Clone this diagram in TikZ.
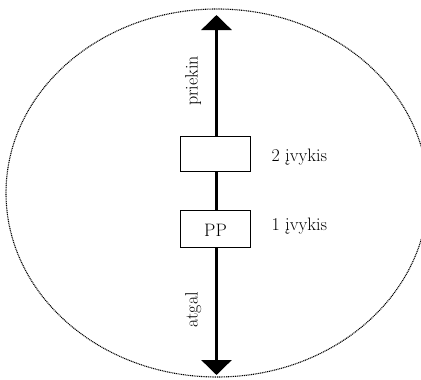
\documentclass[tikz,border=0pt]{standalone}
\usepackage{fontspec}
\usetikzlibrary{arrows.meta}
\begin{document}
\begin{tikzpicture}[x=1pt,y=-1pt,
  lbl/.style={font=\fontsize{18}{21}\selectfont, inner sep=0pt},
  eventbox/.style={draw, line width=1.6pt, minimum width=70pt, minimum height=35pt, inner sep=0pt},
  axis/.style={line width=3pt, -{Triangle[width=30pt,length=15pt]}},
  frame/.style={line width=1.1pt, dash pattern=on 1pt off 0.8pt}]
\useasboundingbox (0,0) rectangle (421,380);
% dotted outline
\draw[frame] (217,193) ellipse [x radius=211, y radius=184];
% the two events on the axis
\node[eventbox] (e2) at (215.5,154) {};
\node[eventbox, minimum height=37pt] (pp) at (215.5,229) {};
\node[lbl, anchor=base] (pptxt) at (215.5,236.5) {PP};
% arrow ends
\coordinate (top) at (216.5,15);
\coordinate (bot) at (216.5,375);
\draw[line width=3pt] (e2.south -| top) -- (pp.north -| top);
\draw[axis] (e2.north -| top) -- (top);
\draw[axis] (pp.south -| bot) -- (bot);
% labels
\node[lbl, anchor=base west] (l2) at (271.5,161.5) {2 įvykis};
\node[lbl, anchor=base west] (l1) at (271.5,230.5) {1 įvykis};
\node[lbl, rotate=90, anchor=base] (fw) at (197.5,81) {priekin};
\node[lbl, rotate=90, anchor=base] (bw) at (197.5,310) {atgal};
\end{tikzpicture}
\end{document}
